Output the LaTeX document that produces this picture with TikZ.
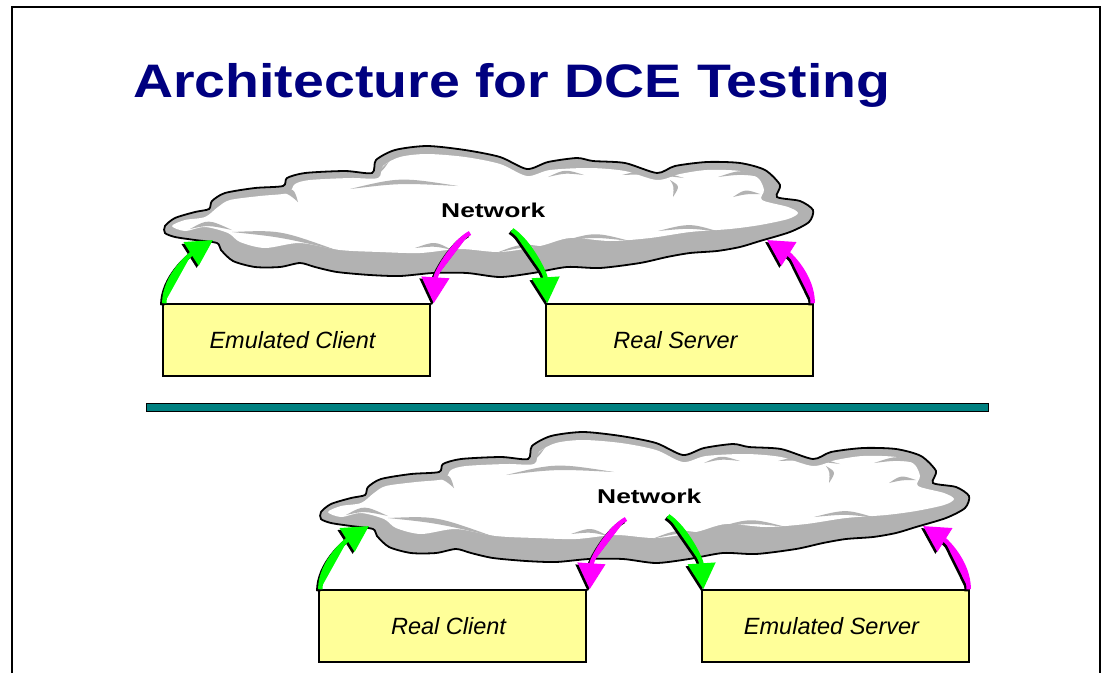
\documentclass[tikz,border=0pt]{standalone}
\usepackage{fontspec}
\setmainfont{Liberation Sans}
\usetikzlibrary{arrows.meta}

\definecolor{titleblue}{RGB}{0,0,128}
\definecolor{cloudgray}{RGB}{178,178,178}
\definecolor{boxyellow}{RGB}{255,255,153}
\definecolor{rulecolor}{RGB}{0,128,128}
\definecolor{flowgreen}{RGB}{0,255,0}
\definecolor{flowmagenta}{RGB}{255,0,255}

\tikzset{
  hostbox/.style={draw=black, line width=1.4pt, fill=boxyellow,
    minimum width=267pt, minimum height=72pt, inner sep=0pt,
    font=\fontsize{23.5}{26}\selectfont\itshape},
  netlabel/.style={anchor=base west, inner sep=0pt,
    font=\fontsize{20}{22}\selectfont\bfseries},
  flow/.style={line width=4.5pt, -{Triangle[length=26pt,width=27pt]}},
  flowshadow/.style={flow, draw=black, fill=black,
    transform canvas={shift={(-2pt,-2pt)}}},
}

% outline of the cloud (pixel-like units, y pointing down)
\newcommand\cloudoutline{plot[smooth cycle, tension=0.45] coordinates {
  (165,226) (175,218) (195,212) (209,209) (212,201) (225,193) (255,188)
  (283,186) (287,178) (305,173) (345,171) (372,173) (376,160) (395,150)
  (427,146) (465,150) (500,157) (527,169) (548,162) (577,158) (593,161)
  (625,163) (657,173) (675,166) (707,162) (740,163) (765,170) (780,185)
  (777,197) (800,201) (813,210) (809,222) (790,232) (760,241) (740,247)
  (717,251) (690,253) (667,257) (640,263) (600,268) (567,267) (533,273)
  (500,277) (467,273) (433,273) (400,276) (370,275) (337,272) (315,267)
  (300,263) (280,267) (255,267) (233,261) (221,250) (217,243) (195,240)
  (175,237) (165,233)}}

% lit upper part of the cloud
\newcommand\cloudlight{plot[smooth cycle, tension=0.5] coordinates {
  (172,226) (185,220) (205,217) (218,207) (230,200) (260,196) (288,193)
  (295,184) (310,180) (350,178) (378,178) (383,166) (400,157) (427,154)
  (465,157) (500,164) (527,176) (550,170) (590,168) (625,171) (657,180)
  (680,174) (707,170) (740,171) (758,178) (764,190) (762,200) (788,207)
  (798,213) (788,219) (760,225) (730,229) (690,232) (650,238) (610,241)
  (570,238) (540,246) (500,252) (460,249) (420,253) (380,252) (340,250)
  (300,243) (265,248) (240,242) (228,233) (205,227) (185,231)}}

% one cloud with its two hosts and four flows
\newcommand\testbed[5]{%
\begin{scope}[shift={(#1,#2)}]
  \begin{scope}
    \clip \cloudoutline;
    \fill[cloudgray] (150,140) rectangle (830,290);
    \fill[white] \cloudlight;
    % shading streaks inside the cloud
    \fill[cloudgray] (190,229) .. controls (208,219) .. (232,230) .. controls (208,225) .. cycle;
    \fill[cloudgray] (232,232) .. controls (280,230) .. (336,250) .. controls (280,237) .. cycle;
    \fill[cloudgray] (280,191) .. controls (294,188) .. (298,202) .. controls (290,195) .. cycle;
    \fill[cloudgray] (350,189) .. controls (400,177) .. (458,186) .. controls (400,183) .. cycle;
    \fill[cloudgray] (370,178) .. controls (380,170) .. (390,160) .. controls (382,172) .. cycle;
    \fill[cloudgray] (415,248) .. controls (435,241) .. (452,250) .. controls (435,246) .. cycle;
    \fill[cloudgray] (548,177) .. controls (565,169) .. (584,175) .. controls (565,173) .. cycle;
    \fill[cloudgray] (622,175) .. controls (650,168) .. (684,178) .. controls (650,174) .. cycle;
    \fill[cloudgray] (670,180) .. controls (680,186) .. (673,197) .. controls (674,186) .. cycle;
    \fill[cloudgray] (718,177) .. controls (742,169) .. (768,178) .. controls (742,174) .. cycle;
    \fill[cloudgray] (733,197) .. controls (745,189) .. (760,194) .. controls (746,194) .. cycle;
    \fill[cloudgray] (658,231) .. controls (690,223) .. (720,232) .. controls (690,228) .. cycle;
    \fill[cloudgray] (563,241) .. controls (595,232) .. (630,241) .. controls (595,237) .. cycle;
    \fill[cloudgray] (496,253) .. controls (522,243) .. (550,248) .. controls (522,247) .. cycle;
  \end{scope}
  \draw[black, line width=1.8pt] \cloudoutline;

  \node[netlabel] (net#3) at (441,217) {\scalebox{1.32}[1]{Network}};
  \node[hostbox] (left#3) at (296.5,340) {#4\hspace*{8pt}};
  \node[hostbox] (right#3) at (679.5,340) {#5\hspace*{8pt}};

  \coordinate (inL#3) at (213,240);
  \coordinate (outL#3) at (470,233);
  \coordinate (outR#3) at (512,230);
  \coordinate (inR#3) at (767,240);
\end{scope}
% shadows of the flows
\draw[flowshadow] ([xshift=2pt]left#3.north west) .. controls +(0,-28) and +(-22,14) .. (inL#3);
\draw[flowshadow] (outL#3) .. controls +(-18,10) and +(2,-30) .. ([xshift=3pt]left#3.north east);
\draw[flowshadow] (outR#3) .. controls +(18,12) and +(-2,-30) .. ([xshift=2pt]right#3.north west);
\draw[flowshadow] ([xshift=-1pt]right#3.north east) .. controls +(0,-28) and +(22,14) .. (inR#3);
% the flows
\draw[flow, draw=flowgreen, fill=flowgreen] ([xshift=2pt]left#3.north west) .. controls +(0,-28) and +(-22,14) .. (inL#3);
\draw[flow, draw=flowmagenta, fill=flowmagenta] (outL#3) .. controls +(-18,10) and +(2,-30) .. ([xshift=3pt]left#3.north east);
\draw[flow, draw=flowgreen, fill=flowgreen] (outR#3) .. controls +(18,12) and +(-2,-30) .. ([xshift=2pt]right#3.north west);
\draw[flow, draw=flowmagenta, fill=flowmagenta] ([xshift=-1pt]right#3.north east) .. controls +(0,-28) and +(22,14) .. (inR#3);
}

\begin{document}
\begin{tikzpicture}[x=1pt, y=-1pt]
  \useasboundingbox (0,0) rectangle (1106,673);
  \fill[white] (0,0) rectangle (1106,673);

  % frame
  \draw[line width=2.2pt] (12,673) -- (12,7) -- (1100,7) -- (1100,673);

  % title
  \node[anchor=base west, inner sep=0pt, text=titleblue,
        font=\fontsize{47}{50}\selectfont\bfseries] (title) at (133,97)
        {\scalebox{1.18}[1]{Architecture for DCE Testing}};

  \testbed{0}{0}{A}{Emulated Client}{Real Server}

  % separator bar
  \draw[line width=1pt, fill=rulecolor] (146,403) rectangle (988,411);

  \testbed{156}{286}{B}{Real Client}{Emulated Server}
\end{tikzpicture}
\end{document}
